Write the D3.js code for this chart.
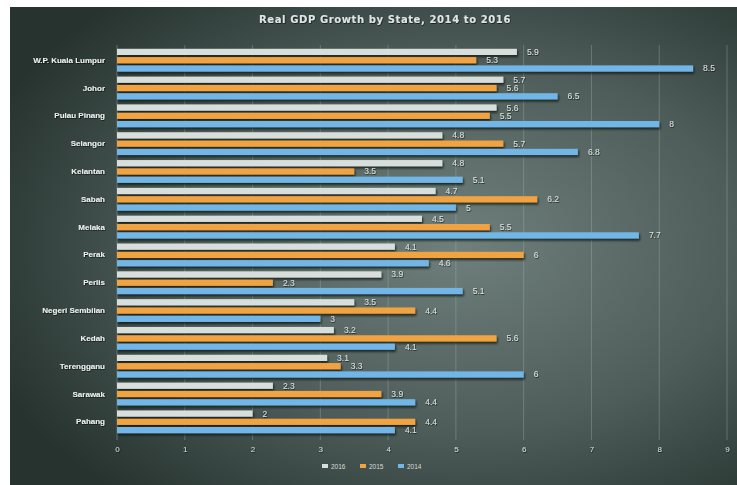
<!DOCTYPE html>
<html><head><meta charset="utf-8">
<script src="https://cdn.jsdelivr.net/npm/d3@7"></script>
<style>html,body{margin:0;padding:0;background:#fff;}svg{display:block;}</style>
</head><body>
<svg id="c" width="737" height="485"></svg>
<script>
const categories = ["W.P. Kuala Lumpur","Johor","Pulau Pinang","Selangor","Kelantan","Sabah","Melaka","Perak","Perlis","Negeri Sembilan","Kedah","Terengganu","Sarawak","Pahang"];
const seriesNames = ["2016","2015","2014"];
const values2016 = [5.9,5.7,5.6,4.8,4.8,4.7,4.5,4.1,3.9,3.5,3.2,3.1,2.3,2];
const values2015 = [5.3,5.6,5.5,5.7,3.5,6.2,5.5,6,2.3,4.4,5.6,3.3,3.9,4.4];
const values2014 = [8.5,6.5,8,6.8,5.1,5,7.7,4.6,5.1,3,4.1,6,4.4,4.1];
const xTicks = [0,1,2,3,4,5,6,7,8,9];
const colors = ["#d8dedb","#f0a33f","#71b6e6"];
const title = "Real GDP Growth by State, 2014 to 2016";

const series = [values2016, values2015, values2014];
const svg = d3.select("#c");
const defs = svg.append("defs");
const rg = defs.append("radialGradient").attr("id","bg").attr("cx","0.62").attr("cy","0.5").attr("r","0.7");
rg.append("stop").attr("offset","0").attr("stop-color","#6f7f7c");
rg.append("stop").attr("offset","0.55").attr("stop-color","#4e5d5a");
rg.append("stop").attr("offset","1").attr("stop-color","#26332f");
const sh = defs.append("filter").attr("id","sh").attr("x","-5%").attr("y","-50%").attr("width","110%").attr("height","250%");
sh.append("feDropShadow").attr("dx",1).attr("dy",2).attr("stdDeviation",0.8).attr("flood-color","#0a1210").attr("flood-opacity",0.85);
const ts = defs.append("filter").attr("id","ts");
ts.append("feDropShadow").attr("dx",0.6).attr("dy",0.8).attr("stdDeviation",0.5).attr("flood-color","#000").attr("flood-opacity",0.7);

svg.append("rect").attr("x",10).attr("y",7).attr("width",727).attr("height",478).attr("fill","url(#bg)");

const x = d3.scaleLinear().domain([0,9]).range([117,727]);
const y = d3.scaleBand().domain(categories).range([46,436]).paddingInner(0.18).paddingOuter(0.1);
const ys = d3.scaleBand().domain(seriesNames).range([0,y.bandwidth()]).paddingInner(0.25);

// gridlines
svg.append("g").selectAll("line").data(xTicks.slice(1)).join("line")
  .attr("x1",d=>x(d)).attr("x2",d=>x(d)).attr("y1",45).attr("y2",440)
  .attr("stroke","#aab6b3").attr("stroke-opacity",0.35).attr("stroke-width",1);
svg.append("line").attr("x1",x(0)).attr("x2",x(0)).attr("y1",45).attr("y2",440).attr("stroke","#9aa6a3").attr("stroke-opacity",0.5);

// axis
const xAxis = d3.axisBottom(x).tickValues(xTicks).tickSize(0).tickPadding(6);
const ax = svg.append("g").attr("transform","translate(0,440)").call(xAxis);
ax.select(".domain").remove();
ax.selectAll("text").attr("fill","#d5dcda").attr("font-family","Liberation Sans, Arial, sans-serif").attr("font-size",8).attr("filter","url(#ts)");

// category labels
const yAxis = d3.axisLeft(y).tickSize(0).tickPadding(12);
const ay = svg.append("g").attr("transform",`translate(${x(0)},0)`).call(yAxis);
ay.select(".domain").remove();
ay.selectAll("text").attr("fill","#eef2f0").attr("font-family","Liberation Sans, Arial, sans-serif").attr("font-size",8).attr("font-weight","bold").attr("filter","url(#ts)");

// bars
seriesNames.forEach((s,si)=>{
  const g = svg.append("g");
  g.selectAll("rect").data(series[si]).join("rect")
    .attr("x",x(0)).attr("y",(d,i)=>y(categories[i])+ys(s))
    .attr("width",d=>x(d)-x(0)).attr("height",ys.bandwidth())
    .attr("fill",colors[si]).attr("filter","url(#sh)");
  g.selectAll("text").data(series[si]).join("text")
    .attr("x",d=>x(d)+10).attr("y",(d,i)=>y(categories[i])+ys(s)+ys.bandwidth()/2+3)
    .text(d=>d).attr("fill","#d9e0de").attr("font-family","Liberation Sans, Arial, sans-serif")
    .attr("font-size",8.5).attr("filter","url(#ts)");
});

// title
svg.append("text").attr("x",385).attr("y",23).attr("text-anchor","middle").text(title)
  .attr("fill","#dfe5e3").attr("font-family","DejaVu Sans, sans-serif").attr("font-weight","bold").attr("font-size",10).attr("letter-spacing",0.6).attr("filter","url(#ts)");

// legend
const lg = svg.append("g").attr("transform","translate(322,467)");
seriesNames.forEach((s,i)=>{
  const gx = i*38;
  lg.append("rect").attr("x",gx).attr("y",-3).attr("width",6).attr("height",4).attr("fill",colors[i]);
  lg.append("text").attr("x",gx+9).attr("y",1.5).text(s).attr("fill","#d5dcda")
    .attr("font-family","Liberation Sans, Arial, sans-serif").attr("font-size",6.5);
});
</script>
</body></html>
